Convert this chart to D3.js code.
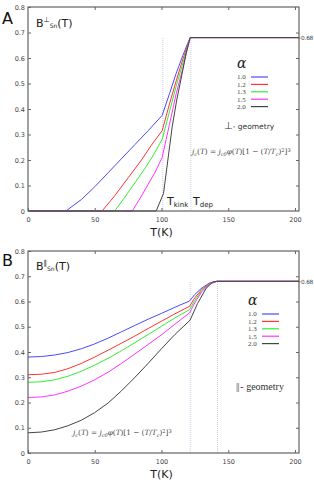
<!DOCTYPE html>
<html>
<head>
<meta charset="utf-8">
<script src="https://cdn.jsdelivr.net/npm/d3@7"></script>
<style>
  body { margin: 0; background: #fff; }
  svg { display: block; }
  text { font-family: "DejaVu Sans", sans-serif; }
</style>
</head>
<body>
<svg></svg>
<script>
const width = 314;
const height = 496;

// legend labels and colours, one per curve
const alphas = ['1.0', '1.2', '1.3', '1.5', '2.0'];
const colors = ['#4a4aff', '#ff3333', '#33ee33', '#ff33ff', '#444444'];

const xTicks = [0, 50, 100, 150, 200];
const yTicks = [0, 0.1, 0.2, 0.3, 0.4, 0.5, 0.6, 0.7, 0.8];
const plateau = 0.68;

// panel A: perpendicular geometry, [T, B]
const perpBlue = [[0,0],[28.4,0],[40,0.045],[50,0.095],[60,0.15],[70,0.205],[80,0.26],[90,0.315],[100.5,0.375],[106,0.46],[111,0.54],[116,0.61],[119.6,0.657],[121.5,0.68],[203,0.68]];
const perpRed = [[0,0],[55.5,0],[65,0.06],[75,0.13],[85,0.2],[92,0.255],[100.5,0.315],[106,0.42],[111,0.51],[116,0.595],[119.6,0.65],[121.5,0.68],[203,0.68]];
const perpGreen = [[0,0],[64.9,0],[72,0.05],[80,0.11],[88,0.17],[94,0.22],[100.5,0.281],[106,0.39],[111,0.49],[116,0.58],[119.6,0.645],[121.5,0.68],[203,0.68]];
const perpMagenta = [[0,0],[78.1,0],[84,0.05],[90,0.105],[95,0.15],[100.5,0.21],[106,0.34],[111,0.46],[116,0.56],[119.6,0.64],[121.5,0.68],[203,0.68]];
const perpBlack = [[0,0],[96,0],[101.5,0.069],[108,0.33],[111.4,0.435],[116,0.553],[118.4,0.618],[121.5,0.68],[203,0.68]];

// panel B: parallel geometry, [T, B]
const parBlue = [[0,0.38],[10,0.382],[20,0.388],[30,0.398],[40,0.413],[50,0.432],[60,0.455],[70,0.48],[80,0.505],[90,0.53],[100,0.553],[110,0.577],[121,0.602],[125,0.628],[129.6,0.651],[135.8,0.673],[141.5,0.68],[203,0.68]];
const parRed = [[0,0.31],[10,0.312],[20,0.319],[30,0.334],[40,0.355],[50,0.38],[60,0.407],[70,0.435],[80,0.463],[90,0.493],[100,0.522],[110,0.551],[121,0.581],[125,0.615],[130,0.647],[136,0.672],[141.5,0.68],[203,0.68]];
const parGreen = [[0,0.28],[10,0.282],[20,0.29],[30,0.304],[40,0.324],[50,0.348],[60,0.375],[70,0.405],[80,0.437],[90,0.469],[100,0.502],[110,0.535],[121,0.568],[125,0.605],[130,0.643],[136,0.67],[141.5,0.68],[203,0.68]];
const parMagenta = [[0,0.22],[10,0.222],[20,0.23],[30,0.245],[40,0.265],[50,0.29],[60,0.32],[70,0.355],[80,0.392],[90,0.43],[100,0.468],[110,0.51],[121,0.555],[125,0.595],[130,0.638],[136,0.668],[141.5,0.68],[203,0.68]];
const parBlack = [[0,0.08],[10,0.083],[20,0.092],[30,0.108],[40,0.13],[50,0.16],[60,0.198],[70,0.246],[80,0.299],[90,0.355],[100,0.413],[110,0.469],[121.4,0.526],[127,0.592],[133.3,0.651],[138.3,0.677],[141.5,0.68],[203,0.68]];

const perpCurves = [perpBlue, perpRed, perpGreen, perpMagenta, perpBlack];
const parCurves = [parBlue, parRed, parGreen, parMagenta, parBlack];
const perpMarkers = [101, 122];   // T_kink, T_dep
const parMarkers = [121.5, 142];

const svg = d3.select('svg')
    .attr('width', width).attr('height', height);

const x = d3.scaleLinear().domain([0, 203]).range([28, 299]);

drawPanel({ top: 7, bottom: 211, curves: perpCurves, markers: perpMarkers, letter: 'A', letterY: 24,
    title: 'B', sup: '\u22a5', titleY: 27, legendX: 237, legendY: 68 });
drawPanel({ top: 251, bottom: 453, curves: parCurves, markers: parMarkers, letter: 'B', letterY: 266,
    title: 'B', sup: '\u2016', titleY: 270, legendX: 248, legendY: 305 });
drawAnnotations();

function drawPanel(p) {
    const y = d3.scaleLinear().domain([0, 0.8]).range([p.bottom, p.top]);
    const g = svg.append('g');
    const line = d3.line().x(d => x(d[0])).y(d => y(d[1]));

    // dotted guide lines at the characteristic temperatures
    g.selectAll('.guide')
        .data(p.markers)
        .enter().append('line')
        .attr('x1', d => x(d)).attr('x2', d => x(d))
        .attr('y1', p.bottom).attr('y2', y(plateau))
        .style('stroke', '#b8c0d8')
        .style('stroke-width', 0.8)
        .style('stroke-dasharray', '1,1');

    g.selectAll('.curve')
        .data(p.curves)
        .enter().append('path')
        .attr('d', line)
        .style('fill', 'none')
        .style('stroke', (d, i) => colors[i])
        .style('stroke-width', 1);

    // frame
    g.append('rect')
        .attr('x', x(0)).attr('y', p.top)
        .attr('width', x(203) - x(0)).attr('height', p.bottom - p.top)
        .style('fill', 'none')
        .style('stroke', '#555')
        .style('stroke-width', 1.1);

    g.append('g')
        .attr('transform', `translate(${x(0)},0)`)
        .call(d3.axisLeft(y).tickValues(yTicks).tickSize(-3).tickPadding(3)
            .tickFormat(d => d === 0 ? '0' : d3.format('.1f')(d)));
    g.append('g')
        .attr('transform', `translate(0,${p.bottom})`)
        .call(d3.axisBottom(x).tickValues(xTicks).tickSize(-3).tickPadding(6));
    g.append('g')
        .attr('transform', `translate(0,${p.top})`)
        .call(d3.axisTop(x).tickValues(xTicks.slice(1)).tickSize(-3).tickFormat(''));
    g.append('g')
        .attr('transform', `translate(${x(203)},0)`)
        .call(d3.axisRight(y).tickValues(yTicks.slice(1, 8)).tickSize(-3).tickFormat(''));
    const side = g.append('g')
        .attr('transform', `translate(${x(203)},0)`)
        .call(d3.axisRight(y).tickValues([plateau]).tickSize(1.5).tickPadding(0.5).tickFormat(d3.format('.2f')));

    g.selectAll('.domain').remove();
    g.selectAll('.tick line').style('stroke', '#666');
    g.selectAll('.tick text').style('font-size', '6.5px').style('fill', '#444')
        .style('font-family', '"DejaVu Sans", sans-serif');
    side.selectAll('.tick text').style('font-size', '5.8px').style('letter-spacing', '-0.2px');

    // axis title
    g.append('text')
        .attr('x', x(100)).attr('y', p.bottom + 25)
        .attr('text-anchor', 'middle')
        .style('font-size', '11px').style('fill', '#222')
        .text('T(K)');

    // panel letter
    g.append('text')
        .attr('x', 2).attr('y', p.letterY)
        .style('font-size', '16px').style('fill', '#111')
        .text(p.letter);

    // quantity label
    const t = g.append('text')
        .attr('x', 36).attr('y', p.titleY)
        .style('font-size', '11px').style('fill', '#222');
    t.append('tspan').text(p.title);
    t.append('tspan').attr('dy', -5).style('font-size', '7px').text(p.sup);
    t.append('tspan').attr('dy', 6).style('font-size', '6px').text('Sn');
    t.append('tspan').attr('dy', -1).text('(T)');

    // legend
    g.append('text')
        .attr('x', p.legendX).attr('y', p.legendY)
        .style('font-family', '"DejaVu Serif", serif')
        .style('font-style', 'italic')
        .style('font-size', '14px').style('fill', '#222')
        .text('\u03b1');
    const rows = g.selectAll('.legend')
        .data(alphas)
        .enter().append('g')
        .attr('transform', (d, i) => `translate(${p.legendX},${p.legendY + 9 + i * 7.4})`);
    rows.append('text')
        .attr('x', 0).attr('y', 2.3)
        .style('font-family', '"Liberation Serif", serif')
        .style('font-size', '7px').style('fill', '#444')
        .text(d => d);
    rows.append('line')
        .attr('x1', 14).attr('x2', 31)
        .style('stroke', (d, i) => colors[i])
        .style('stroke-width', 1.2);
}

function drawAnnotations() {
    // panel A texts
    const geoA = svg.append('text')
        .attr('x', 224).attr('y', 129)
        .style('font-size', '7.5px').style('fill', '#333');
    geoA.append('tspan').style('font-size', '10px').text('\u22a5');
    geoA.append('tspan').text('- geometry');

    drawFormula(192, 154);

    const kink = svg.append('text')
        .attr('x', 167).attr('y', 205)
        .style('font-size', '11px').style('fill', '#222');
    kink.append('tspan').text('T');
    kink.append('tspan').attr('dy', 2).style('font-size', '7px').text('kink');
    const dep = svg.append('text')
        .attr('x', 193).attr('y', 205)
        .style('font-size', '11px').style('fill', '#222');
    dep.append('tspan').text('T');
    dep.append('tspan').attr('dy', 2).style('font-size', '7px').text('dep');

    // panel B texts
    const geoB = svg.append('text')
        .attr('x', 236).attr('y', 390)
        .style('font-family', '"Liberation Serif", serif')
        .style('font-size', '10px').style('fill', '#333');
    geoB.append('tspan').style('letter-spacing', '-0.6px').text('||');
    geoB.append('tspan').attr('dx', 1.5).text('- geometry');

    drawFormula(73, 435);
}

function drawFormula(fx, fy) {
    const f = svg.append('text')
        .attr('x', fx).attr('y', fy)
        .style('font-family', '"DejaVu Serif", serif')
        .style('font-size', '7.3px').style('fill', '#444');
    f.append('tspan').style('font-style', 'italic').text('j');
    f.append('tspan').attr('dy', 1.5).style('font-size', '5px').style('font-style', 'italic').text('c');
    f.append('tspan').attr('dy', -1.5).text('(');
    f.append('tspan').style('font-style', 'italic').text('T');
    f.append('tspan').text(') = ');
    f.append('tspan').style('font-style', 'italic').text('j');
    f.append('tspan').attr('dy', 1.5).style('font-size', '5px').style('font-style', 'italic').text('c0');
    f.append('tspan').attr('dy', -1.5).style('font-style', 'italic').text('\u03c6');
    f.append('tspan').text('(');
    f.append('tspan').style('font-style', 'italic').text('T');
    f.append('tspan').text(')[1 \u2212 (');
    f.append('tspan').style('font-style', 'italic').text('T');
    f.append('tspan').text('/');
    f.append('tspan').style('font-style', 'italic').text('T');
    f.append('tspan').attr('dy', 1.5).style('font-size', '5px').style('font-style', 'italic').text('c');
    f.append('tspan').attr('dy', -1.5).text(')');
    f.append('tspan').attr('dy', -2.5).style('font-size', '5px').text('2');
    f.append('tspan').attr('dy', 2.5).text(']');
    f.append('tspan').attr('dy', -2.5).style('font-size', '5px').text('3');
}
</script>
</body>
</html>
